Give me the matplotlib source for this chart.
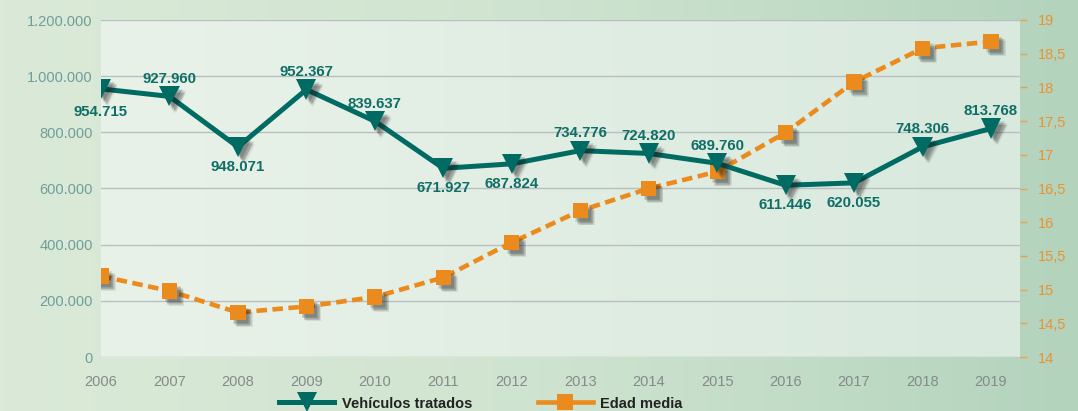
import numpy as np
import matplotlib
matplotlib.use("Agg")
import matplotlib.pyplot as plt
import matplotlib.patheffects as pe
from matplotlib.lines import Line2D
from matplotlib.ticker import FuncFormatter
from matplotlib.colors import LinearSegmentedColormap

# ---------------- data ----------------
years = [2006, 2007, 2008, 2009, 2010, 2011, 2012, 2013, 2014, 2015, 2016, 2017, 2018, 2019]
vehiculos = [954715, 927960, 748000, 952367, 839637, 671927, 687824, 734776, 724820,
             689760, 611446, 620055, 748306, 813768]
vehiculos_labels = ["954.715", "927.960", "948.071", "952.367", "839.637", "671.927", "687.824",
                    "734.776", "724.820", "689.760", "611.446", "620.055", "748.306", "813.768"]
label_side = ["below", "above", "below", "above", "above", "below", "below",
              "above", "above", "above", "below", "below", "above", "above"]
edad_media = [15.20, 14.98, 14.66, 14.75, 14.89, 15.18, 15.70, 16.17, 16.50,
              16.75, 17.33, 18.08, 18.58, 18.68]
left_ticks = [0, 200000, 400000, 600000, 800000, 1000000, 1200000]
right_ticks = [14, 14.5, 15, 15.5, 16, 16.5, 17, 17.5, 18, 18.5, 19]

TEAL = "#006b63"
ORANGE = "#ec8b1d"

plt.rcParams['font.family'] = ['Liberation Sans', 'DejaVu Sans']

fig = plt.figure(figsize=(10.78, 4.11), dpi=100)

# figure background gradient
bg = fig.add_axes([0, 0, 1, 1], zorder=-5)
cmap_bg = LinearSegmentedColormap.from_list("bg", ["#dbead8", "#cfe4d0", "#b3d3bd"])
bg.imshow(np.linspace(0, 1, 256)[None, :], aspect='auto', cmap=cmap_bg, extent=[0, 1, 0, 1])
bg.set_axis_off()

pos = [101 / 1078, 54 / 411, (1020 - 101) / 1078, (357 - 20) / 411]
xmin, xmax = 2006, 2006 + (1020 - 101) / 68.46

# plot area background + grid
pbg = fig.add_axes(pos, zorder=-4)
cmap_p = LinearSegmentedColormap.from_list("pb", ["#e9f2e9", "#d9e9dd"])
pbg.imshow(np.linspace(0, 1, 256)[None, :], aspect='auto', cmap=cmap_p,
           extent=[xmin, xmax, 0, 1200000])
pbg.set_xlim(xmin, xmax)
pbg.set_ylim(0, 1200000)
pbg.set_yticks(left_ticks)
pbg.grid(axis='y', color='#b9bfc0', linewidth=1.0)
pbg.tick_params(left=False, bottom=False, labelleft=False, labelbottom=False)
for s in pbg.spines.values():
    s.set_visible(False)

ax = fig.add_axes(pos, zorder=2)
ax2 = ax.twinx()
ax2.set_zorder(1)
ax.patch.set_visible(False)
ax2.patch.set_visible(False)

# soft (blurred-looking) drop shadow built from several faint offset copies
shadow = [pe.SimplePatchShadow(offset=o, shadow_rgbFace='#1a1a1a', alpha=0.09)
          for o in [(5, -5), (4.5, -3.5), (3.5, -4.5), (4, -4), (3, -3), (2.5, -2), (2, -2.5)]]
shadow.append(pe.Normal())

# Edad media (right axis)
ax2.plot(years, edad_media, color=ORANGE, linewidth=3.3, linestyle=(0, (2.3, 1.2)),
         solid_capstyle='butt', dash_capstyle='butt', zorder=2)
ax2.plot(years, edad_media, linestyle='none', marker='s', markersize=11,
         color=ORANGE, markeredgewidth=0, zorder=3, path_effects=shadow)

# Vehículos tratados (left axis)
ax.plot(years, vehiculos, color=TEAL, linewidth=3.6, zorder=2, solid_joinstyle='miter')
ax.plot(years, vehiculos, linestyle='none', marker='v', markersize=14.5,
        color=TEAL, markeredgewidth=0, zorder=3, path_effects=shadow)

for i, (x, y, t, side) in enumerate(zip(years, vehiculos, vehiculos_labels, label_side)):
    dy = 12.5 if side == "above" else -14.5
    if i == 0:
        dy = -17
    ax.annotate(t, (x, y), xytext=(0, dy), textcoords='offset points',
                ha='center', va='center', fontsize=10.8, fontweight='bold',
                color='#0f6f67', zorder=5)

ax.set_xlim(xmin, xmax)
ax.set_ylim(0, 1200000)
ax2.set_ylim(14, 19)
ax.set_xticks(years)
ax.set_yticks(left_ticks)
ax2.set_yticks(right_ticks)

ax.yaxis.set_major_formatter(FuncFormatter(lambda v, p: f"{int(v):,}".replace(",", ".")))
ax2.yaxis.set_major_formatter(FuncFormatter(
    lambda v, p: (f"{v:g}").replace(".", ",")))

ax.tick_params(axis='y', length=0, pad=6, labelsize=10.5, labelcolor='#6f9d9a')
ax.tick_params(axis='x', length=0, pad=13, labelsize=10.5, labelcolor='#858a8a')
ax2.tick_params(axis='y', length=5, width=1, color='#f0a040', pad=8,
                labelsize=10.5, labelcolor='#ea9330', direction='out')

for a in (ax, ax2):
    for s in a.spines.values():
        s.set_visible(False)

handles = [
    Line2D([], [], color=TEAL, linewidth=3.6, marker='v', markersize=14.5, markeredgewidth=0),
    Line2D([], [], color=ORANGE, linewidth=3.3, marker='s', markersize=11, markeredgewidth=0),
]
leg = fig.legend(handles, ["Vehículos tratados", "Edad media"], loc='center',
                 bbox_to_anchor=(0.446, 0.018), ncol=2, frameon=False,
                 handlelength=3.8, handletextpad=0.5, columnspacing=4.5,
                 prop={'weight': 'bold', 'size': 10.5})
for t in leg.get_texts():
    t.set_color('#222222')

fig.savefig("out.png", dpi=100)
